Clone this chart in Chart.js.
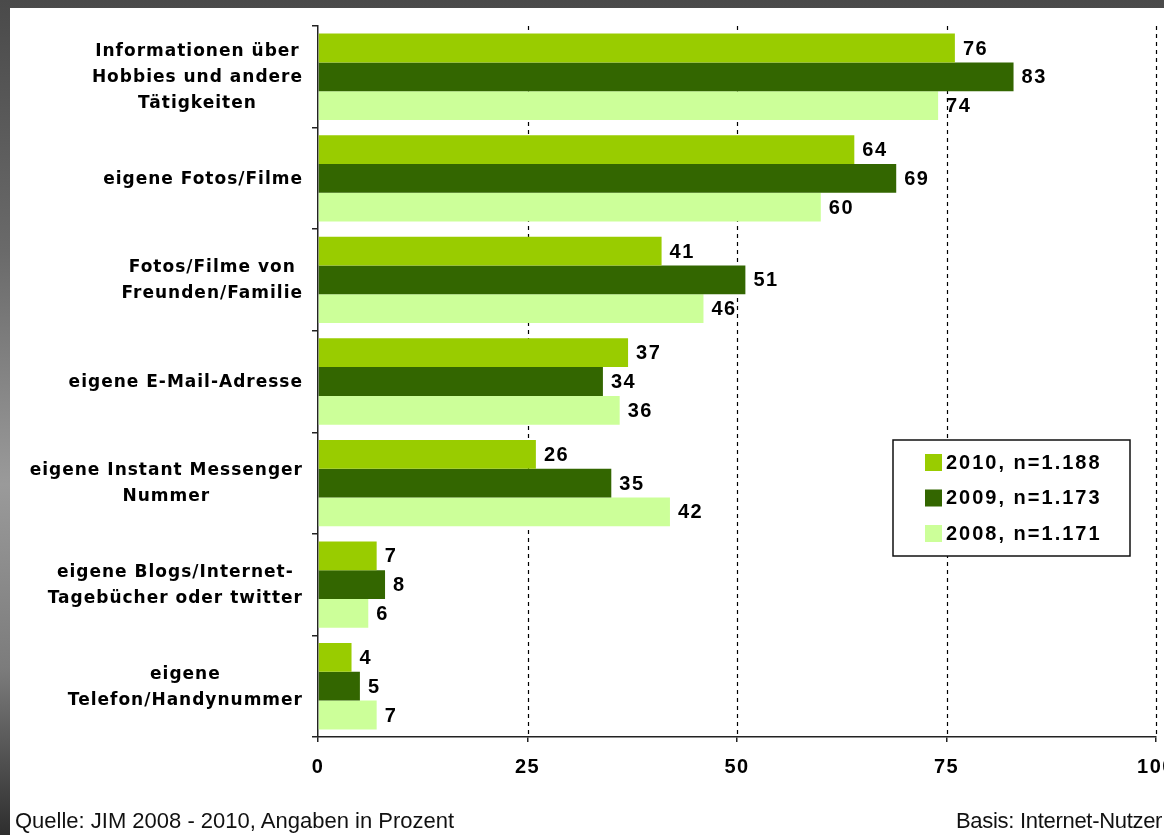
<!DOCTYPE html>
<html>
<head>
<meta charset="utf-8">
<script src="https://cdn.jsdelivr.net/npm/chart.js@4.4.1/dist/chart.umd.min.js"></script>
<style>
  html, body { margin: 0; padding: 0; width: 1164px; height: 835px; overflow: hidden; }
  body {
    background: linear-gradient(to bottom, #4a4a4a 0%, #6a6a6a 30%, #9a9a9a 58%, #7c7c7c 80%, #2e2e2e 100%);
  }
  #panel { position: absolute; left: 10px; top: 8px; width: 1190px; height: 827px; background: #fff; }
  #chart { position: absolute; left: 0; top: 0; }
  .note {
    position: absolute; top: 802px; white-space: nowrap; color: #111;
    font: 22px "Liberation Sans", Arial, sans-serif; line-height: 22px;
  }
</style>
</head>
<body>
<div id="panel">
  <canvas id="chart" width="1190" height="827"></canvas>
  <div class="note" style="left:5px">Quelle: JIM 2008 - 2010, Angaben in Prozent</div>
  <div class="note" style="left:946px; letter-spacing:-0.3px">Basis: Internet-Nutzer</div>
</div>
<script>
// Kategorien (mehrzeilige Beschriftung)
const categories = [
  ['Informationen über', 'Hobbies und andere', 'Tätigkeiten'],
  ['eigene Fotos/Filme'],
  ['Fotos/Filme von', 'Freunden/Familie'],
  ['eigene E-Mail-Adresse'],
  ['eigene Instant Messenger', 'Nummer'],
  ['eigene Blogs/Internet-', 'Tagebücher oder twitter'],
  ['eigene', 'Telefon/Handynummer'],
];

// Werte in Prozent
const values2010 = [76, 64, 41, 37, 26, 7, 4];
const values2009 = [83, 69, 51, 34, 35, 8, 5];
const values2008 = [74, 60, 46, 36, 42, 6, 7];

const seriesLabels = ['2010, n=1.188', '2009, n=1.173', '2008, n=1.171'];
const xTicks = [0, 25, 50, 75, 100];

// gestrichelte Gitterlinien, Wertebeschriftung, Kategorien und Legende
const extras = {
  id: 'extras',
  beforeDatasetsDraw(chart) {
    const { ctx, chartArea, scales: { x } } = chart;
    ctx.save();
    ctx.strokeStyle = '#000';
    ctx.lineWidth = 1.2;
    ctx.setLineDash([4, 4]);
    xTicks.forEach((v) => {
      if (v === 0) return;
      const px = Math.round(x.getPixelForValue(v)) + 0.5;
      ctx.beginPath();
      ctx.moveTo(px, chartArea.top);
      ctx.lineTo(px, chartArea.bottom);
      ctx.stroke();
    });
    ctx.restore();
  },
  afterDatasetsDraw(chart) {
    const ctx = chart.ctx;
    ctx.save();

    // Werte rechts neben den Balken
    ctx.fillStyle = '#000';
    ctx.font = 'bold 20px "Liberation Sans", Arial, sans-serif';
    ctx.letterSpacing = '1.5px';
    ctx.textAlign = 'left';
    ctx.textBaseline = 'middle';
    chart.data.datasets.forEach((ds, i) => {
      chart.getDatasetMeta(i).data.forEach((bar, j) => {
        ctx.fillText(String(ds.data[j]), bar.x + 8, bar.y + 1);
      });
    });

    // Kategorien: Block rechtsbündig, Zeilen zentriert
    const y = chart.scales.y;
    ctx.font = 'bold 17px "DejaVu Sans", Verdana, sans-serif';
    ctx.letterSpacing = '1px';
    ctx.textAlign = 'center';
    const rightEdge = 293;
    const lineH = 26;
    categories.forEach((lines, i) => {
      const maxW = Math.max(...lines.map((l) => ctx.measureText(l).width));
      const cx = rightEdge - maxW / 2;
      const cy = y.getPixelForValue(i);
      lines.forEach((l, k) => {
        ctx.fillText(l, cx, cy + (k - (lines.length - 1) / 2) * lineH + 1);
      });
    });

    // Legende
    const box = { x: 883, y: 432, w: 237, h: 116 };
    ctx.fillStyle = '#fff';
    ctx.fillRect(box.x, box.y, box.w, box.h);
    ctx.strokeStyle = '#111';
    ctx.lineWidth = 1.5;
    ctx.strokeRect(box.x, box.y, box.w, box.h);
    ctx.font = 'bold 20px "Liberation Sans", Arial, sans-serif';
    ctx.letterSpacing = '2px';
    ctx.textAlign = 'left';
    chart.data.datasets.forEach((ds, i) => {
      const rowY = 454 + i * 35.5;
      ctx.fillStyle = ds.backgroundColor;
      ctx.fillRect(915, rowY - 8, 17, 17);
      ctx.fillStyle = '#000';
      ctx.fillText(ds.label, 936, rowY + 1);
    });

    ctx.restore();
  },
  beforeDraw(chart) {
    chart.ctx.letterSpacing = '1.5px';
  },
};

const ctx = document.getElementById('chart').getContext('2d');
new Chart(ctx, {
  type: 'bar',
  data: {
    labels: categories,
    datasets: [
      { label: seriesLabels[0], data: values2010, backgroundColor: '#99cc00' },
      { label: seriesLabels[1], data: values2009, backgroundColor: '#336600' },
      { label: seriesLabels[2], data: values2008, backgroundColor: '#ccff99' },
    ],
  },
  options: {
    indexAxis: 'y',
    responsive: false,
    animation: false,
    layout: { padding: { left: 0, top: 18, right: 44, bottom: 0 } },
    datasets: {
      bar: { categoryPercentage: 0.85, barPercentage: 1.0, borderWidth: 0 },
    },
    plugins: {
      legend: { display: false },
      tooltip: { enabled: false },
    },
    scales: {
      x: {
        min: 0,
        max: 100,
        ticks: {
          stepSize: 25,
          color: '#000',
          padding: 13,
          maxRotation: 0,
          font: { family: '"Liberation Sans", Arial, sans-serif', size: 20, weight: 'bold' },
        },
        grid: { drawOnChartArea: false, tickLength: 5, color: '#222', lineWidth: 1.5 },
        border: { color: '#222', width: 1.5 },
        afterFit: (s) => { s.height = 98; },
      },
      y: {
        ticks: { display: false },
        grid: { drawOnChartArea: false, tickLength: 6, color: '#222', lineWidth: 1.5 },
        border: { color: '#222', width: 1.5 },
        afterFit: (s) => { s.width = 308; },
      },
    },
  },
  plugins: [extras],
});
</script>
</body>
</html>
